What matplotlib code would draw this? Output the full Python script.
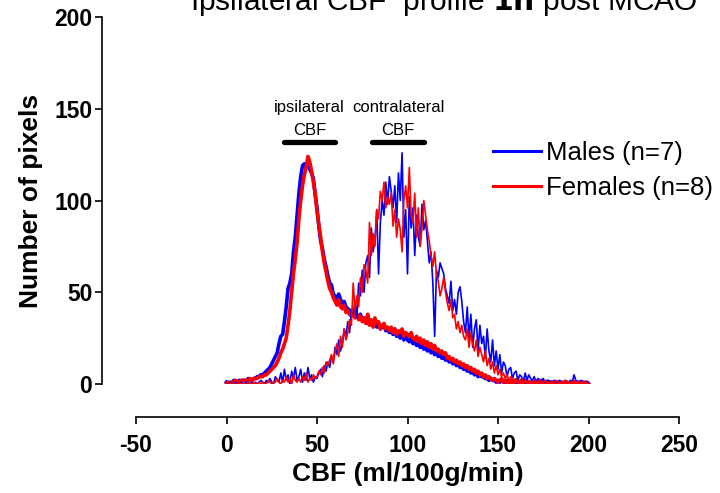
import matplotlib
matplotlib.use("Agg")
import matplotlib.pyplot as plt
from matplotlib.lines import Line2D
import numpy as np

plt.rcParams['font.family'] = ['Liberation Sans', 'DejaVu Sans']
plt.rcParams['axes.unicode_minus'] = False

cbf = list(range(0, 201))

male_ipsi = [1,0,1,0,2,1,1,2,1,2,
             2,1,3,2,2,3,3,4,4,5,
             5,6,7,8,9,11,13,15,17,22,
             26,27,34,42,52,55,60,72,80,92,
             104,113,119,120,118,122,117,115,112,103,
             96,86,78,74,68,64,59,55,54,49,
             48,46,49,46,44,45,42,41,40,40,
             38,40,37,36,38,35,36,34,33,35,
             33,32,34,31,33,30,31,32,29,30,
             28,29,27,30,26,28,25,27,24,26,
             24,23,25,22,23,21,22,20,21,19,
             20,18,19,17,18,16,17,15,16,14,
             15,13,14,12,13,11,12,10,11,9,
             10,8,9,7,8,6,7,5,6,4,
             5,4,4,3,3,2,3,2,2,1,
             2,1,2,1,1,2,1,0,1,2,
             1,0,1,1,2,1,0,1,1,0,
             1,1,0,1,2,1,0,1,0,1,
             1,0,1,1,0,1,0,1,1,0,
             1,0,1,0,1,1,0,1,0,1,
             0]

female_ipsi = [0,1,0,1,1,2,1,1,2,2,
               2,2,2,3,2,3,3,3,4,4,
               4,5,5,6,7,8,9,10,12,14,
               17,19,22,25,32,40,50,60,68,77,
               90,100,108,114,118,124,121,116,110,104,
               94,87,80,72,66,61,56,52,50,47,
               45,43,46,42,41,43,39,40,38,37,
               39,36,38,35,37,34,36,33,38,32,
               35,31,36,33,34,30,32,33,30,31,
               29,31,28,30,27,29,28,30,26,28,
               27,26,28,25,24,26,23,25,22,24,
               21,23,20,22,19,21,18,19,17,18,
               16,17,14,15,13,14,12,13,11,12,
               10,11,9,10,8,9,7,8,6,7,
               5,6,4,5,3,4,3,2,3,2,
               1,2,3,1,2,1,0,2,1,1,
               2,1,1,0,1,2,1,1,0,1,
               1,0,1,2,1,0,1,1,0,1,
               0,1,1,0,1,1,0,1,1,0,
               1,1,0,1,0,1,1,0,1,0,
               0]

male_contra = [0,0,1,0,0,1,0,0,1,0,
               0,1,0,0,1,0,1,0,1,2,
               1,0,2,1,3,1,0,4,2,1,
               6,1,8,2,5,0,7,3,9,2,
               4,8,1,6,2,9,3,5,1,4,
               3,6,8,4,10,7,12,9,15,12,
               20,16,24,18,22,30,26,34,28,40,
               38,45,36,55,48,62,50,66,70,58,
               85,72,78,95,60,88,100,92,110,98,
               113,105,96,108,88,115,100,126,80,95,
               60,102,85,96,70,92,80,75,98,84,
               89,78,66,72,55,26,62,58,66,63,
               60,52,48,44,56,40,46,38,50,53,
               45,34,28,42,24,38,20,30,35,18,
               32,22,26,14,30,18,12,24,10,18,
               8,16,6,12,10,4,8,9,3,6,
               7,2,5,4,1,6,2,5,3,2,
               4,1,3,2,1,3,1,2,2,1,
               1,2,1,1,2,1,1,2,1,1,
               2,1,5,2,1,1,2,1,1,1,
               1]

female_contra = [0,0,0,1,0,0,0,1,0,0,
                 0,0,1,0,0,1,0,0,1,0,
                 1,0,0,2,1,0,1,1,3,1,
                 0,2,1,4,1,3,0,5,2,1,
                 3,1,4,2,6,1,3,2,5,3,
                 4,7,5,9,6,12,10,13,16,11,
                 18,22,15,26,20,30,24,28,35,32,
                 55,40,48,42,58,50,65,62,55,88,
                 70,82,75,95,90,105,100,110,96,102,
                 98,104,86,95,80,90,84,72,100,108,
                 96,118,92,88,104,80,96,75,85,100,
                 92,84,78,70,64,72,60,56,48,52,
                 58,50,44,40,46,36,38,30,34,28,
                 32,26,24,30,20,28,22,18,24,15,
                 20,16,12,18,10,14,8,12,6,10,
                 5,8,4,6,3,5,2,4,3,2,
                 3,1,2,3,1,2,1,2,1,1,
                 2,1,1,2,1,1,2,1,1,1,
                 1,1,2,1,1,1,1,2,1,1,
                 1,1,2,1,1,1,1,1,1,1,
                 0]

x_ticks = [-50, 0, 50, 100, 150, 200, 250]
y_ticks = [0, 50, 100, 150, 200]
legend_labels = ['Males (n=7)', 'Females (n=8)']
series_colors = ['#0000FF', '#FF0000']
bar_ipsi = [31.5, 60]
bar_contra = [80.5, 109]
bar_level = 132

W, H = 720, 493
fig = plt.figure(figsize=(W/100, H/100), dpi=100)
ax = fig.add_axes([136/W, 1-384/H, (679-136)/W, (384-17)/H])
ax.set_xlim(-50, 250)
ax.set_ylim(0, 200)

blue, red = series_colors
ax.plot(cbf, male_ipsi, color=blue, lw=2.6, solid_joinstyle='round')
ax.plot(cbf, female_ipsi, color=red, lw=2.6, solid_joinstyle='round')
ax.plot(cbf, male_contra, color=blue, lw=1.2)
ax.plot(cbf, female_contra, color=red, lw=1.2)

for b, name in ((bar_ipsi, 'ipsilateral'), (bar_contra, 'contralateral')):
    ax.plot(b, [bar_level, bar_level], color='black', lw=3.8, solid_capstyle='round', clip_on=False)
    ax.text(np.mean(b), bar_level + 18.5, name, ha='center', va='center', fontsize=12)
    ax.text(np.mean(b), bar_level + 6, 'CBF', ha='center', va='center', fontsize=12)

for s in ['top', 'right']:
    ax.spines[s].set_visible(False)
ax.spines['left'].set_position(('outward', 34*0.72))
ax.spines['bottom'].set_position(('outward', 33*0.72))
for s in ['left', 'bottom']:
    ax.spines[s].set_linewidth(1.2)
ax.set_xticks(x_ticks)
ax.set_yticks(y_ticks)
ax.tick_params(width=1.2, length=5, labelsize=16.5)
ax.tick_params(axis='x', pad=7)
ax.tick_params(axis='y', pad=2)
for lab in ax.get_xticklabels() + ax.get_yticklabels():
    lab.set_fontweight('bold')
ax.set_xlabel('CBF (ml/100g/min)', fontsize=19, fontweight='bold', labelpad=4)
ax.set_ylabel('Number of pixels', fontsize=19, fontweight='bold', labelpad=8)

handles = [Line2D([], [], color=c, lw=2.2) for c in series_colors]
fig.legend(handles, legend_labels, loc='upper left', bbox_to_anchor=(493/W, 1-141/H),
           frameon=False, fontsize=18.5, handlelength=1.85, handletextpad=0.22,
           labelspacing=0.42, borderpad=0, borderaxespad=0)

fig.text(444/W, 1-10/H, 'Ipsilateral CBF  profile $\\bf{1h}$ post MCAO', ha='center',
         va='baseline', fontsize=21.5)

fig.savefig('out.png', dpi=100)
